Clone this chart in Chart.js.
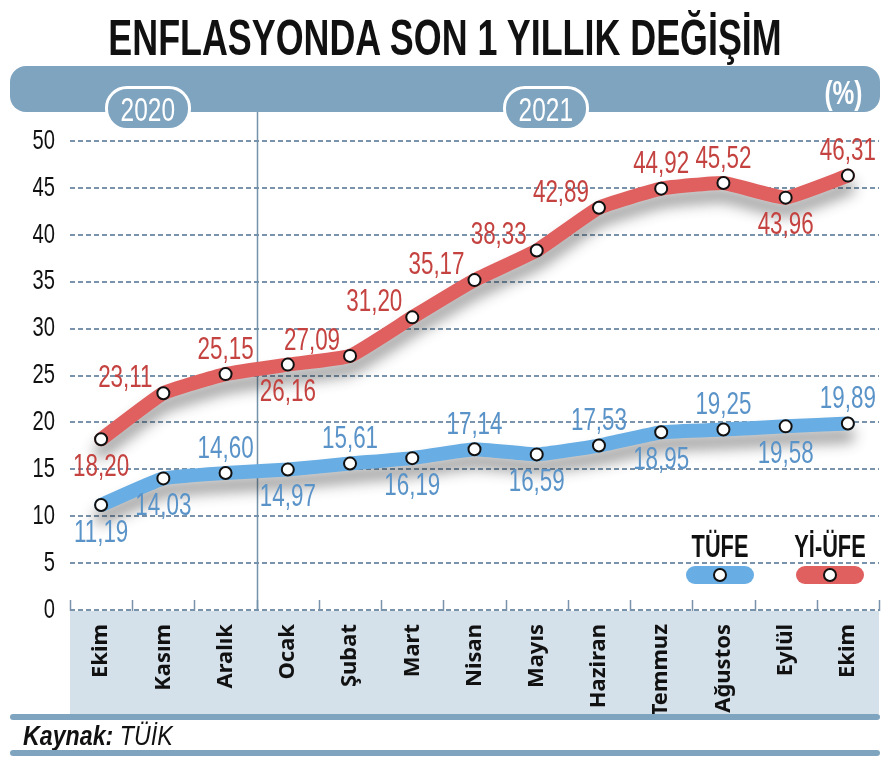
<!DOCTYPE html>
<html lang="tr">
<head>
<meta charset="utf-8">
<title>Enflasyonda son 1 yıllık değişim</title>
<script src="https://cdn.jsdelivr.net/npm/chart.js@4.4.1/dist/chart.umd.min.js"></script>
<style>
    html, body { margin: 0; padding: 0; background: #fff; }
    body { width: 887px; height: 763px; position: relative; overflow: hidden; font-family: "Liberation Sans", Arial, sans-serif; }
    #chart { position: absolute; left: 0; top: 0; }
    .title { position: absolute; left: 445px; top: 13px; font-weight: bold; font-size: 50px; line-height: 50px; color: #111; white-space: nowrap; transform: translateX(-50%) scaleX(0.717); }
    .band { position: absolute; left: 10px; top: 66px; width: 870px; height: 46px; background: #7fa4bf; border-radius: 16px; }
    .pill { position: absolute; top: 86px; width: 80px; height: 39px; background: #7fa4bf; border: 3px solid #fff; border-radius: 22px; color: #fff; text-align: center; font-size: 34px; line-height: 40px; }
    .pill span, .pct span { display: inline-block; transform: scaleX(0.72); }
    .pct { position: absolute; left: 810px; top: 75px; width: 66px; text-align: center; color: #fff; font-weight: bold; font-size: 34px; line-height: 34px; }
    .rule { position: absolute; left: 10px; width: 870px; height: 6px; background: #7fa4bf; border-radius: 3px; }
    .source { position: absolute; left: 23px; top: 723px; font-size: 27px; line-height: 27px; font-style: italic; color: #111; white-space: nowrap; transform: scaleX(0.86); transform-origin: left center; }
</style>
</head>
<body>
<canvas id="chart" width="887" height="763"></canvas>
<div class="title">ENFLASYONDA SON 1 YILLIK DEĞİŞİM</div>
<div class="band"></div>
<div class="pill" style="left:105px"><span>2020</span></div>
<div class="pill" style="left:503px"><span>2021</span></div>
<div class="pct"><span>(%)</span></div>
<div class="rule" style="top:714px"></div>
<div class="source"><b>Kaynak:</b> TÜİK</div>
<div class="rule" style="top:750px"></div>

<script>
const months = ['Ekim', 'Kasım', 'Aralık', 'Ocak', 'Şubat', 'Mart', 'Nisan', 'Mayıs', 'Haziran', 'Temmuz', 'Ağustos', 'Eylül', 'Ekim'];
const tufe = [11.19, 14.03, 14.60, 14.97, 15.61, 16.19, 17.14, 16.59, 17.53, 18.95, 19.25, 19.58, 19.89];
const yiufe = [18.20, 23.11, 25.15, 26.16, 27.09, 31.20, 35.17, 38.33, 42.89, 44.92, 45.52, 43.96, 46.31];
const yTicks = [0, 5, 10, 15, 20, 25, 30, 35, 40, 45, 50];
// where each value label sits: u = above, d = below, ul = above-left
const tufeSides = ['d', 'd', 'u', 'd', 'u', 'd', 'u', 'd', 'u', 'd', 'u', 'd', 'u'];
const yiufeSides = ['d', 'ul', 'u', 'd', 'ul', 'ul', 'ul', 'ul', 'ul', 'u', 'u', 'd', 'u'];
const yearBreak = 3; // 2021 starts at Ocak

const RED = '#e05f5f';
const BLUE = '#68ade3';
const RED_TEXT = '#c4423f';
const BLUE_TEXT = '#5a93c8';
const GRID = '#7893ab';

const fmt = v => v.toFixed(2).replace('.', ',');

function narrowText(ctx, text, x, y, size, scale, weight, align) {
    ctx.save();
    ctx.translate(x, y);
    ctx.scale(scale, 1);
    ctx.font = (weight || 'normal') + ' ' + size + 'px "Liberation Sans", Arial, sans-serif';
    ctx.textAlign = align || 'center';
    ctx.textBaseline = 'middle';
    ctx.fillText(text, 0, 0);
    ctx.restore();
}

// grey shadow under the thick lines
const lineShadow = {
    id: 'lineShadow',
    beforeDatasetDraw(chart, args) {
        if (!chart.data.datasets[args.index].shadow) return;
        const ctx = chart.ctx;
        ctx.save();
        ctx.shadowColor = 'rgba(40, 40, 40, 0.45)';
        ctx.shadowBlur = 14;
        ctx.shadowOffsetY = 12;
    },
    afterDatasetDraw(chart, args) {
        if (chart.data.datasets[args.index].shadow) chart.ctx.restore();
    }
};

const decorations = {
    id: 'decorations',
    beforeDraw(chart) {
        const { ctx, chartArea: a } = chart;
        ctx.save();
        ctx.fillStyle = '#d4e0ea';
        ctx.fillRect(a.left, a.bottom + 1, a.right - a.left, 713 - a.bottom);
        ctx.restore();
    },
    beforeDatasetsDraw(chart) {
        const { ctx, chartArea: a } = chart;
        const n = months.length;
        const step = (a.right - a.left) / n;
        ctx.save();
        ctx.strokeStyle = GRID;
        ctx.lineWidth = 1.5;
        for (let i = 0; i <= n; i++) {
            const x = Math.round(a.left + i * step) + 0.5;
            ctx.beginPath();
            ctx.moveTo(x, a.bottom - 10);
            ctx.lineTo(x, a.bottom + 1);
            ctx.stroke();
        }
        const bx = Math.round(a.left + yearBreak * step) + 0.5;
        ctx.strokeStyle = '#7393ab';
        ctx.beginPath();
        ctx.moveTo(bx, 112);
        ctx.lineTo(bx, a.bottom);
        ctx.stroke();

        // y tick labels in a narrow face, placed by the y scale
        const y = chart.scales.y;
        ctx.fillStyle = '#111';
        yTicks.forEach(v => {
            narrowText(ctx, String(v), a.left - 15, y.getPixelForValue(v), 28, 0.72, 'normal', 'right');
        });
        ctx.restore();
    },
    afterDatasetsDraw(chart) {
        const ctx = chart.ctx;
        const series = [
            { meta: chart.getDatasetMeta(0), values: yiufe, sides: yiufeSides, color: RED_TEXT },
            { meta: chart.getDatasetMeta(1), values: tufe, sides: tufeSides, color: BLUE_TEXT }
        ];
        series.forEach(s => {
            ctx.fillStyle = s.color;
            s.meta.data.forEach((pt, i) => {
                let dx = 0, dy = -24;
                if (s.sides[i] === 'd') dy = 28;
                if (s.sides[i] === 'ul') { dx = -38; dy = -15; }
                narrowText(ctx, fmt(s.values[i]), pt.x + dx, pt.y + dy, 32, 0.7);
            });
        });

        // legend
        const items = [
            { label: 'TÜFE', x: 720, color: BLUE },
            { label: 'Yİ-ÜFE', x: 830, color: RED }
        ];
        items.forEach(it => {
            ctx.fillStyle = '#111';
            narrowText(ctx, it.label, it.x, 548, 32, 0.68, 'bold');
            ctx.fillStyle = it.color;
            ctx.beginPath();
            ctx.roundRect(it.x - 34, 566, 68, 18, 9);
            ctx.fill();
            ctx.beginPath();
            ctx.arc(it.x, 575, 6, 0, Math.PI * 2);
            ctx.fillStyle = '#fff';
            ctx.fill();
            ctx.lineWidth = 2;
            ctx.strokeStyle = '#111';
            ctx.stroke();
        });
    }
};

const lineStyle = {
    borderWidth: 14,
    pointRadius: 0,
    tension: 0.12,
    borderJoinStyle: 'round',
    borderCapStyle: 'round',
    clip: false,
    shadow: true
};
const pointStyle = {
    showLine: false,
    pointRadius: 6,
    pointHoverRadius: 6,
    pointBackgroundColor: '#fff',
    pointBorderColor: '#111',
    pointBorderWidth: 2,
    clip: false
};

new Chart(document.getElementById('chart'), {
    type: 'line',
    data: {
        labels: months,
        datasets: [
            { ...lineStyle, label: 'Yİ-ÜFE', data: yiufe, borderColor: RED, order: 4 },
            { ...lineStyle, label: 'TÜFE', data: tufe, borderColor: BLUE, order: 3 },
            { ...pointStyle, label: 'Yİ-ÜFE noktalar', data: yiufe, order: 2 },
            { ...pointStyle, label: 'TÜFE noktalar', data: tufe, order: 1 }
        ]
    },
    options: {
        responsive: false,
        animation: false,
        layout: { padding: { top: 141, right: 7, left: 0, bottom: 0 } },
        plugins: {
            legend: { display: false },
            tooltip: { enabled: false },
            title: { display: false }
        },
        scales: {
            x: {
                offset: true,
                grid: { display: false },
                border: { display: false },
                ticks: {
                    autoSkip: false,
                    minRotation: 90,
                    maxRotation: 90,
                    padding: 6,
                    color: '#111',
                    font: { family: '"Noto Sans", sans-serif', size: 22, weight: 'bold' }
                },
                afterFit(scale) {
                    scale.height = 153;
                    scale.paddingLeft = 0;
                    scale.paddingRight = 0;
                }
            },
            y: {
                min: 0,
                max: 50,
                afterBuildTicks(scale) {
                    scale.ticks = yTicks.map(v => ({ value: v }));
                },
                grid: {
                    color: GRID,
                    lineWidth: 2,
                    drawTicks: false
                },
                border: { display: false, dash: [5, 3] },
                ticks: { display: false },
                afterFit(scale) {
                    scale.width = 70;
                }
            }
        }
    },
    plugins: [lineShadow, decorations]
});
</script>
</body>
</html>
